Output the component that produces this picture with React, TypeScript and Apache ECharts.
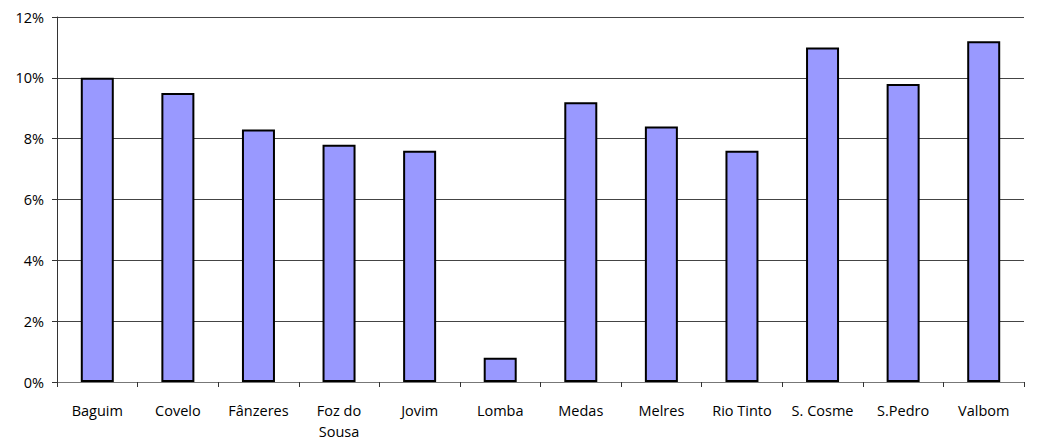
import React, { useEffect, useRef } from "react";
import * as echarts from "echarts";

const categories = ["Baguim", "Covelo", "Fânzeres", "Foz do\nSousa", "Jovim", "Lomba", "Medas", "Melres", "Rio Tinto", "S. Cosme", "S.Pedro", "Valbom"];
const values = [10.0, 9.5, 8.3, 7.8, 7.6, 0.8, 9.2, 8.4, 7.6, 11.0, 9.8, 11.2];
const yTicks = [0, 2, 4, 6, 8, 10, 12];

export default function App() {
  const ref = useRef<HTMLDivElement>(null);
  useEffect(() => {
    if (!ref.current) return;
    const chart = echarts.init(ref.current, undefined, { renderer: "svg" });
    chart.setOption({
      animation: false,
      grid: { left: 57, top: 17, right: 13, bottom: 57, containLabel: false },
      xAxis: {
        type: "category",
        data: categories,
        axisLine: { lineStyle: { color: "#777", width: 1 } },
        axisTick: { show: true, length: 5, lineStyle: { color: "#333" } },
        axisLabel: { color: "#000", fontFamily: "Open Sans", fontSize: 14.5, margin: 18, lineHeight: 21, interval: 0 },
      },
      yAxis: {
        type: "value",
        min: yTicks[0],
        max: yTicks[yTicks.length - 1],
        interval: 2,
        axisLine: { show: true, lineStyle: { color: "#333", width: 1 } },
        axisTick: { show: true, length: 5, lineStyle: { color: "#333" } },
        axisLabel: { color: "#000", fontFamily: "Open Sans", fontSize: 14.5, margin: 13, formatter: (v: number) => v + "%" },
        splitLine: { show: true, lineStyle: { color: "#444", width: 1 } },
      },
      series: [
        {
          type: "bar",
          data: values,
          barWidth: 33,
          itemStyle: { color: "#9999FF", borderColor: "#000", borderWidth: 2 },
        },
      ],
    });
    return () => chart.dispose();
  }, []);
  return <div ref={ref} style={{ width: 1037, height: 442, position: "absolute", left: 0, top: 0 }} />;
}
